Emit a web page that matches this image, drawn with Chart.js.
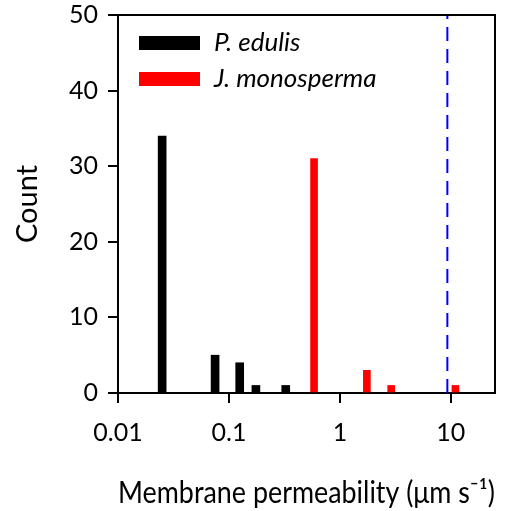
<!DOCTYPE html>
<html lang="en">
<head>
  <meta charset="UTF-8" />
  <title>Membrane permeability histogram</title>
  <script src="https://cdn.jsdelivr.net/npm/chart.js"></script>
  <style>
    body { margin: 0; background: #fff; }
    #wrap { width: 518px; height: 511px; }
  </style>
</head>
<body>
  <div id="wrap"><canvas id="chart" width="518" height="511"></canvas></div>
  <script>
    // data
    const species = ['P. edulis', 'J. monosperma'];
    const edulisPerm = [0.025, 0.075, 0.125, 0.175, 0.325];
    const edulisCount = [34, 5, 4, 1, 1];
    const monoPerm = [0.585, 1.75, 2.9, 11];
    const monoCount = [31, 3, 1, 1];
    const thresholdPerm = 9.3;
    const xTicks = [0.01, 0.1, 1, 10];
    const yTicks = [0, 10, 20, 30, 40, 50];

    const FONT = 'Lato, "Open Sans", sans-serif';

    const toPoints = (xs, ys) => xs.map((x, i) => ({ x: x, y: ys[i] }));

    // box around plot (top + right sides)
    const framePlugin = {
      id: 'frame',
      afterDatasetsDraw(chart) {
        const { ctx, chartArea: a } = chart;
        ctx.save();
        ctx.strokeStyle = '#000';
        ctx.lineWidth = 2;
        ctx.beginPath();
        ctx.moveTo(a.left, a.top);
        ctx.lineTo(a.right, a.top);
        ctx.lineTo(a.right, a.bottom);
        ctx.stroke();
        ctx.restore();
      }
    };

    // legend drawn inside the plot, top left
    const innerLegend = {
      id: 'innerLegend',
      afterDraw(chart) {
        const { ctx, chartArea: a } = chart;
        ctx.save();
        chart.data.datasets.slice(0, 2).forEach((ds, i) => {
          const cy = a.top + 28 + i * 36;
          ctx.fillStyle = ds.backgroundColor;
          ctx.fillRect(a.left + 21, cy - 7, 61, 14);
          ctx.fillStyle = '#000';
          ctx.font = 'italic 26px ' + FONT;
          ctx.textBaseline = 'middle';
          ctx.fillText(ds.label, a.left + 96, cy);
        });
        ctx.restore();
      }
    };

    new Chart(document.getElementById('chart'), {
      type: 'bar',
      data: {
        datasets: [
          {
            label: species[0],
            data: toPoints(edulisPerm, edulisCount),
            backgroundColor: '#000000',
            barThickness: 8,
            grouped: false
          },
          {
            label: species[1],
            data: toPoints(monoPerm, monoCount),
            backgroundColor: '#ff0000',
            barThickness: 7,
            grouped: false
          },
          {
            type: 'line',
            label: 'threshold',
            data: [{ x: thresholdPerm, y: 0 }, { x: thresholdPerm, y: 50 }],
            borderColor: '#0000ff',
            borderWidth: 2,
            borderDash: [14, 8],
            pointRadius: 0,
            fill: false
          }
        ]
      },
      options: {
        responsive: false,
        animation: false,
        layout: { padding: { top: 15, right: 23, left: 0, bottom: 0 } },
        plugins: {
          legend: { display: false },
          tooltip: { enabled: false }
        },
        scales: {
          x: {
            type: 'logarithmic',
            min: 0.01,
            max: 25,
            offset: false,
            afterBuildTicks: (s) => { s.ticks = xTicks.map(v => ({ value: v })); },
            afterFit: (s) => { s.height = 118; s.paddingLeft = 0; s.paddingRight = 0; },
            ticks: {
              color: '#000',
              font: { family: FONT, size: 25 },
              padding: 15,
              maxRotation: 0,
              autoSkip: false,
              callback: (v) => String(v)
            },
            grid: {
              offset: false,
              drawOnChartArea: false,
              drawTicks: true,
              tickLength: 10,
              color: '#000',
              lineWidth: 2
            },
            border: { color: '#000', width: 2 },
            title: {
              display: true,
              text: 'Membrane permeability (\u03bcm s\u207b\u00b9)',
              color: '#000',
              font: { family: FONT, size: 30 },
              padding: { top: 0, bottom: 0 }
            }
          },
          y: {
            min: 0,
            max: 50,
            afterBuildTicks: (s) => { s.ticks = yTicks.map(v => ({ value: v })); },
            afterFit: (s) => { s.width = 118; s.paddingTop = 0; s.paddingBottom = 0; },
            ticks: {
              color: '#000',
              font: { family: FONT, size: 25 },
              padding: 10
            },
            grid: {
              drawOnChartArea: false,
              drawTicks: true,
              tickLength: 10,
              color: '#000',
              lineWidth: 2
            },
            border: { color: '#000', width: 2 },
            title: {
              display: true,
              text: 'Count',
              color: '#000',
              font: { family: FONT, size: 29 },
              padding: { top: 10, bottom: 0 }
            }
          }
        }
      },
      plugins: [framePlugin, innerLegend]
    });
  </script>
</body>
</html>
